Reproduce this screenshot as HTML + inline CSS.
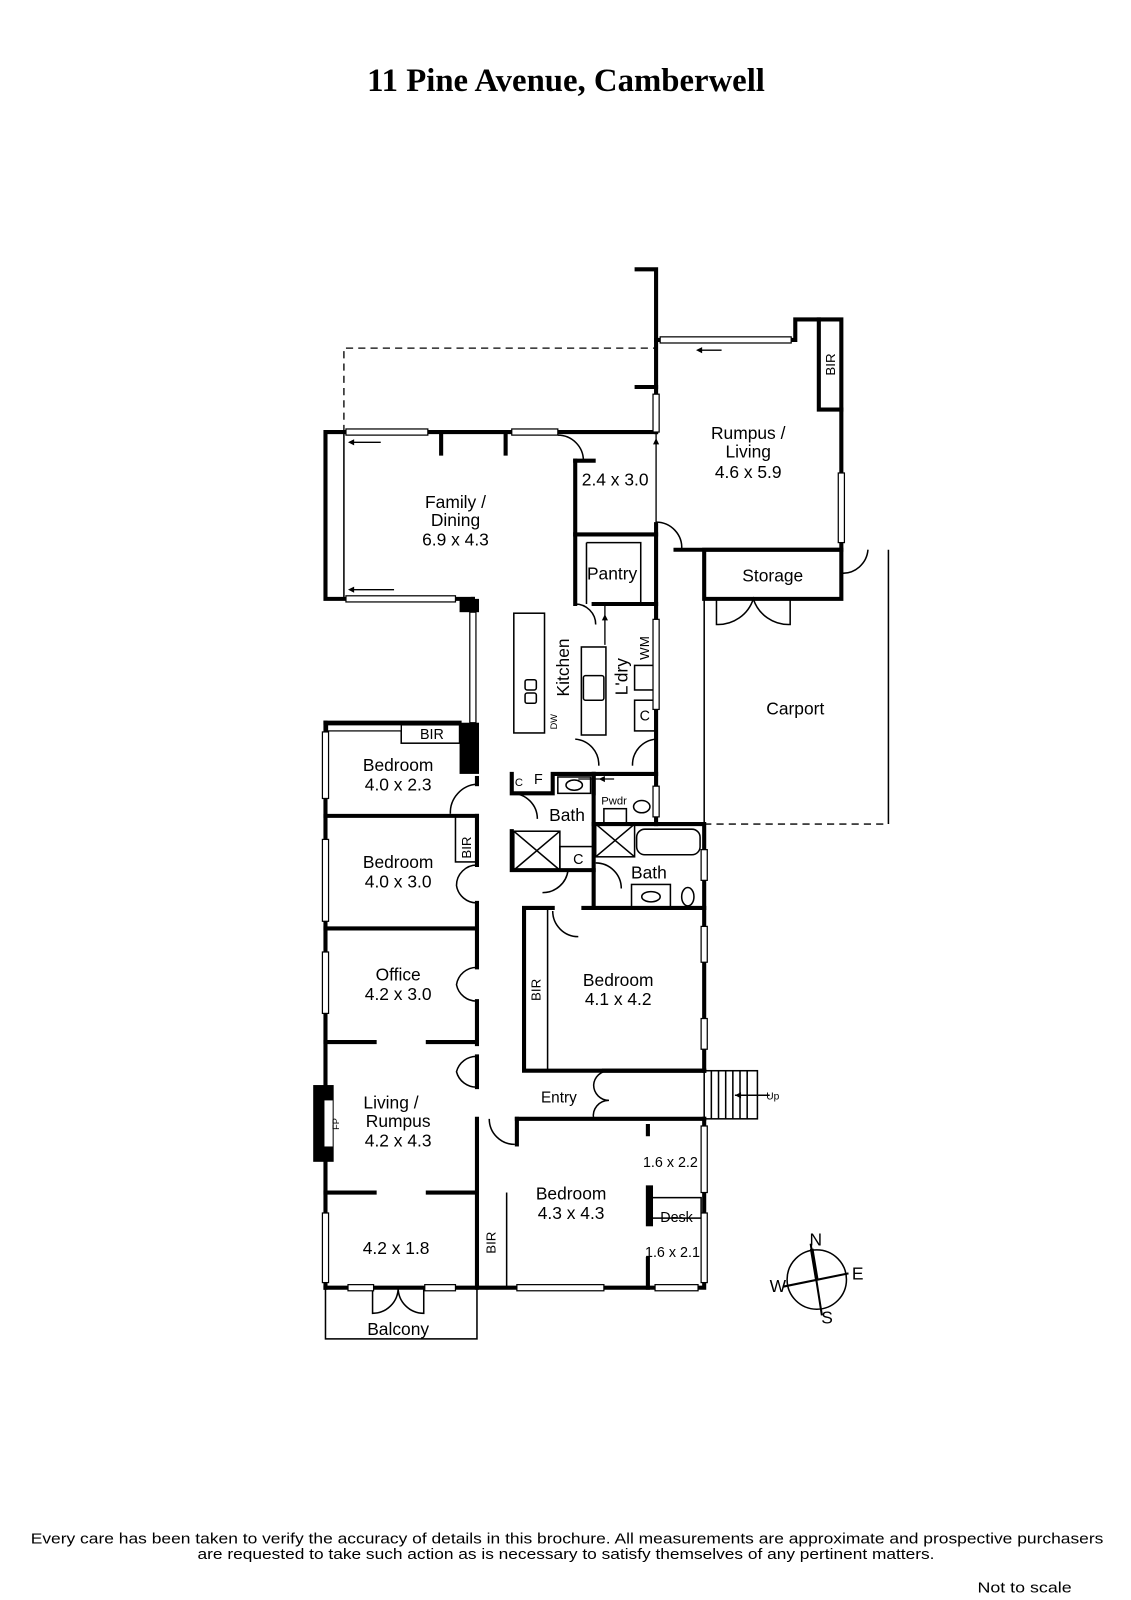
<!DOCTYPE html>
<html><head><meta charset="utf-8">
<style>
html,body{margin:0;padding:0;background:#fff;}
svg{display:block;}
text{font-family:"Liberation Sans",sans-serif;fill:#000;}
</style></head>
<body>
<svg width="1131" height="1600" viewBox="0 0 1105 1563" xmlns="http://www.w3.org/2000/svg">
<rect width="1105" height="1563" fill="#fff"/>
<text x="553" y="89" text-anchor="middle" style="font-family:'Liberation Serif',serif;font-weight:bold;font-size:32px">11 Pine Avenue, Camberwell</text>

<g fill="none" stroke="#000" stroke-width="1.3" stroke-dasharray="7,5">
<path d="M336,422 V340 H641"/>
<path d="M688,805 H868"/>
</g>
<g fill="none" stroke="#000" stroke-width="4" stroke-linecap="square">
<path d="M622,263 H641 V422"/>
<path d="M622,378 H641"/>
<path d="M641,422 H318 V585 H462"/>
<path d="M431,422 V443 M494,422 V443"/>
<path d="M562,450 V590"/>
<path d="M562,450 H580"/>
<path d="M641,512 V805"/>
<path d="M562,522 H641"/>
<path d="M580,590 H641"/>
<path d="M462,585 V706"/>
<path d="M318,706 H449"/>
<path d="M318,706 V1258"/>
<path d="M318,797 H466 M318,907 H466"/>
<path d="M318,1018 H366 M418,1018 H466"/>
<path d="M318,1165 H366 M418,1165 H466"/>
<path d="M318,1258 H688 V1093"/>
<path d="M466,797 V845 M466,882 V945 M466,978 V1020 M466,1032 V1062 M466,1093 V1258"/>
<path d="M466,760 V766"/>
<path d="M500,756 V775 H540 V756 H580 V775 M500,812 V850 H580"/>
<path d="M580,756 H641"/>
<path d="M580,756 V887"/>
<path d="M580,805 H688 V1046"/>
<path d="M512,887 H540 M570,887 H688 M512,887 V1046 H688"/>
<path d="M590,1046 H688 M505,1093 H688"/>
<path d="M505,1093 V1118"/>
<path d="M633,1100 V1108 M633,1230 V1258"/>
<path d="M641,332 H777 V312 H822 V537 H660"/>
<path d="M800,312 V400 H822"/>
<path d="M688,537 H822 V585 H688 Z"/>
</g>
<g fill="none" stroke="#000" stroke-width="1.5">
<path d="M336,422 V585"/>
<path d="M688,585 V805 M868,537 V805"/>
<path d="M535,887 V1046"/>
<path d="M495,1165 V1258"/>
<path d="M573,530 V590 M573,530 H626 V590"/>
<rect x="392" y="708" width="57" height="18"/>
<rect x="445" y="797" width="21" height="45"/>
<rect x="800" y="312" width="22" height="88"/>
<rect x="502" y="599" width="30" height="117"/>
<rect x="568" y="632" width="24" height="86"/>
<rect x="513" y="664" width="11" height="10" rx="2"/><rect x="513" y="677" width="11" height="10" rx="2"/>
<rect x="570" y="660" width="20" height="24" rx="2"/>
<rect x="620" y="650" width="20" height="24"/>
<rect x="620" y="684" width="20" height="30"/>
<rect x="502" y="812" width="45" height="38"/><path d="M502,812 L547,850 M547,812 L502,850"/>
<rect x="547" y="827" width="33" height="23"/>
<rect x="582" y="805" width="38" height="32"/><path d="M582,805 L620,837 M620,805 L582,837"/>
<rect x="622" y="810" width="62" height="25" rx="8"/>
<rect x="617" y="864" width="38" height="23"/><ellipse cx="636" cy="876" rx="9" ry="5"/>
<ellipse cx="672" cy="876" rx="6" ry="9"/>
<rect x="590" y="790" width="22" height="14"/>
<ellipse cx="627" cy="788" rx="8" ry="6"/>
<rect x="545" y="759" width="32" height="16"/><ellipse cx="561" cy="767" rx="8" ry="5"/>
<rect x="637" y="1170" width="48" height="20"/>
<rect x="688" y="1046" width="52" height="47"/>
<path d="M695,1046 V1093 M702,1046 V1093 M709,1046 V1093 M716,1046 V1093 M723,1046 V1093 M730,1046 V1093"/>
<path d="M718,1070 H752"/>
<rect x="318" y="1258" width="148" height="50"/>
<path d="M545,425 A25,25 0 0 1 570,450"/>
<path d="M641,510 A25,25 0 0 1 666,537"/>
<path d="M822,560 A25,25 0 0 0 848,537"/>
<path d="M700,585 V610 A36,36 0 0 0 736,585 A36,36 0 0 0 772,610 V585"/>
<path d="M562,590 A20,20 0 0 1 582,610"/>
<path d="M562,722 A25,25 0 0 1 585,748"/>
<path d="M641,722 A25,25 0 0 0 618,748"/>
<path d="M466,766 A28,28 0 0 0 440,795"/>
<path d="M466,845 A20,20 0 0 0 446,865 A20,20 0 0 0 466,882"/>
<path d="M466,945 A20,20 0 0 0 446,962 A20,20 0 0 0 466,978"/>
<path d="M466,1032 A20,20 0 0 0 446,1047 A20,20 0 0 0 466,1062"/>
<path d="M500,775 A25,25 0 0 1 525,800"/>
<path d="M555,850 A25,25 0 0 1 530,872"/>
<path d="M582,843 A25,25 0 0 1 607,868"/>
<path d="M540,890 A25,25 0 0 0 565,915"/>
<path d="M595,1046 A15,15 0 0 0 580,1060 A15,15 0 0 0 595,1075 A15,15 0 0 0 580,1093"/>
<path d="M478,1093 A25,25 0 0 0 503,1118"/>
<path d="M364,1258 V1283 A25,25 0 0 0 389,1258 A25,25 0 0 0 414,1283 V1258"/>
<circle cx="798" cy="1250" r="29"/>
</g>
<path d="M792,1215 L803,1285 M765,1257 L829,1244" stroke="#000" stroke-width="2"/>
<path d="M793,1220 L798,1250" stroke="#000" stroke-width="3.5"/>
<rect x="449" y="585" width="19" height="13"/>
<rect x="449" y="706" width="19" height="50"/>
<rect x="306" y="1060" width="20" height="75"/>
<rect x="317" y="1075" width="8" height="45" fill="#fff"/>
<rect x="631" y="1158" width="7" height="40"/>
<g fill="#fff" stroke="#000" stroke-width="1.2">
<rect x="338" y="419" width="80" height="6"/>
<rect x="500" y="419" width="45" height="6"/>
<rect x="338" y="582" width="107" height="6"/>
<rect x="459" y="598" width="6" height="108"/>
<rect x="645" y="329" width="128" height="6"/>
<rect x="638" y="385" width="6" height="37"/>
<rect x="819" y="462" width="6" height="68"/>
<rect x="638" y="605" width="6" height="88"/>
<rect x="638" y="768" width="6" height="30"/>
<rect x="320" y="708" width="72" height="6"/>
<rect x="315" y="715" width="6" height="65"/>
<rect x="315" y="820" width="6" height="80"/>
<rect x="315" y="930" width="6" height="60"/>
<rect x="315" y="1185" width="6" height="68"/>
<rect x="685" y="830" width="6" height="30"/>
<rect x="685" y="905" width="6" height="35"/>
<rect x="685" y="995" width="6" height="30"/>
<rect x="685" y="1100" width="6" height="65"/>
<rect x="685" y="1185" width="6" height="68"/>
<rect x="340" y="1255" width="25" height="6"/>
<rect x="415" y="1255" width="30" height="6"/>
<rect x="505" y="1255" width="85" height="6"/>
<rect x="640" y="1255" width="42" height="6"/>
</g>
<g stroke="#000" stroke-width="1.3" fill="none">
<path d="M345,432 H372 M345,576 H385 M685,342 H705 M641,422 V512 M591,590 V630 M565,761 H600"/>
</g>
<g fill="#000">
<path d="M340,432 l6,-3 v6z M340,576 l6,-3 v6z M680,342 l6,-3 v6z M641,428 l-3,6 h6z M591,600 l-3,6 h6z M585,761 l6,-3 v6z M718,1070 l6,-3 v6z"/>
</g>

<g font-size="17" text-anchor="middle">
<text x="731" y="429">Rumpus /</text><text x="731" y="447">Living</text><text x="731" y="467">4.6 x 5.9</text>
<text x="445" y="496">Family /</text><text x="445" y="514">Dining</text><text x="445" y="533">6.9 x 4.3</text>
<text x="601" y="474">2.4 x 3.0</text>
<text x="598" y="566">Pantry</text>
<text x="755" y="568">Storage</text>
<text x="777" y="698">Carport</text>
<text x="389" y="753">Bedroom</text><text x="389" y="772">4.0 x 2.3</text>
<text x="389" y="848">Bedroom</text><text x="389" y="867">4.0 x 3.0</text>
<text x="389" y="958">Office</text><text x="389" y="977">4.2 x 3.0</text>
<text x="382" y="1083">Living /</text><text x="389" y="1101">Rumpus</text><text x="389" y="1120">4.2 x 4.3</text>
<text x="387" y="1225">4.2 x 1.8</text>
<text x="389" y="1304">Balcony</text>
<text x="554" y="802">Bath</text>
<text x="634" y="858">Bath</text>
<text x="604" y="963">Bedroom</text><text x="604" y="982">4.1 x 4.2</text>
<text x="546" y="1077" font-size="15">Entry</text>
<text x="558" y="1172">Bedroom</text><text x="558" y="1191">4.3 x 4.3</text>
<text x="797" y="1217">N</text><text x="838" y="1250">E</text><text x="808" y="1293">S</text><text x="760" y="1262">W</text>
</g>
<g font-size="14" text-anchor="middle">
<text x="422" y="722">BIR</text>
<text x="526" y="766">F</text><text x="507" y="768" font-size="11">C</text>
<text x="565" y="844">C</text>
<text x="661" y="1194">Desk</text>
<text x="655" y="1140">1.6 x 2.2</text>
<text x="657" y="1228">1.6 x 2.1</text>
<text x="630" y="704">C</text>
<text x="600" y="786" font-size="11">Pwdr</text>
<text x="755" y="1074" font-size="10">Up</text>
</g>
<text transform="translate(816,356) rotate(-90)" font-size="13" text-anchor="middle">BIR</text>
<text transform="translate(460,828) rotate(-90)" font-size="13" text-anchor="middle">BIR</text>
<text transform="translate(528,967) rotate(-90)" font-size="13" text-anchor="middle">BIR</text>
<text transform="translate(484,1214) rotate(-90)" font-size="13" text-anchor="middle">BIR</text>
<text transform="translate(556,652) rotate(-90)" font-size="17" text-anchor="middle">Kitchen</text>
<text transform="translate(613,661) rotate(-90)" font-size="17" text-anchor="middle">L'dry</text>
<text transform="translate(634,633) rotate(-90)" font-size="13" text-anchor="middle">WM</text>
<text transform="translate(544,705) rotate(-90)" font-size="9" text-anchor="middle">DW</text>
<text transform="translate(331,1098) rotate(-90)" font-size="9" text-anchor="middle">FP</text>

<g font-size="14.5">
<text x="30" y="1508" textLength="1048" lengthAdjust="spacingAndGlyphs">Every care has been taken to verify the accuracy of details in this brochure.  All measurements are approximate and prospective purchasers</text>
<text x="193" y="1523" textLength="720" lengthAdjust="spacingAndGlyphs">are requested to take such action as is necessary to satisfy themselves of any pertinent matters.</text>
<text x="955" y="1556" textLength="92" lengthAdjust="spacingAndGlyphs">Not to scale</text>
</g>
</svg>
</body></html>
